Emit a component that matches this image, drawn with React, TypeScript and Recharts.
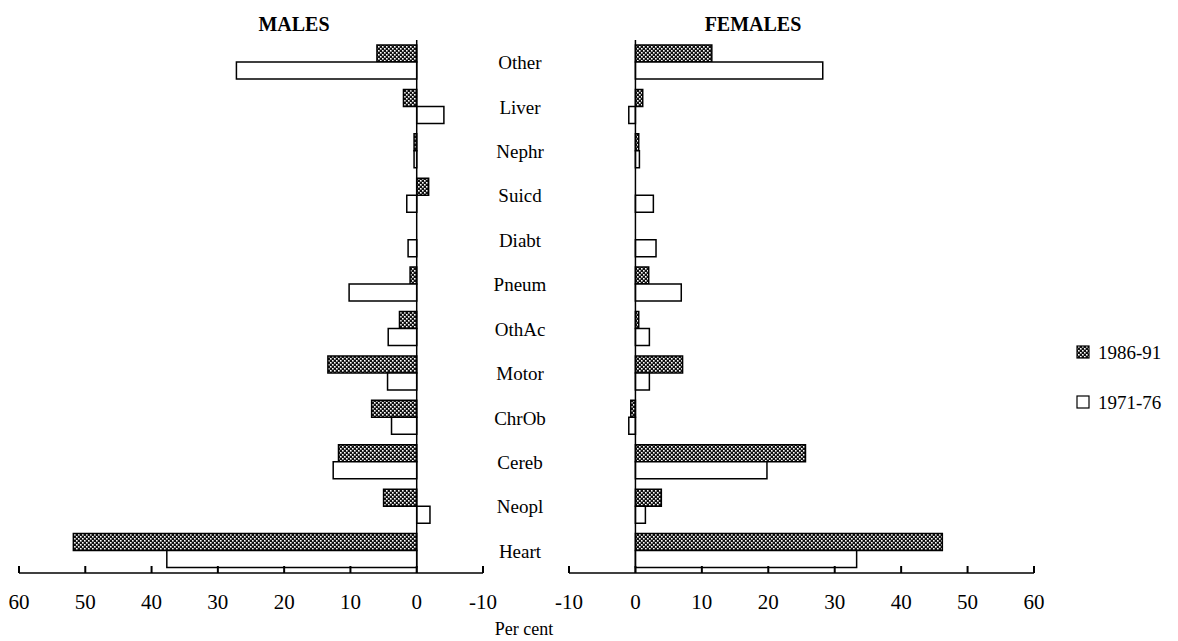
import { Bar, BarChart, ReferenceLine, XAxis, YAxis } from "recharts";

const causes = ["Other", "Liver", "Nephr", "Suicd", "Diabt", "Pneum", "OthAc", "Motor", "ChrOb", "Cereb", "Neopl", "Heart"];
const males8691 = [6.0, 2.0, 0.4, -1.8, 0, 1.0, 2.6, 13.4, 6.8, 11.8, 5.0, 51.8];
const males7176 = [27.2, -4.1, 0.4, 1.5, 1.3, 10.2, 4.3, 4.4, 3.8, 12.6, -2.0, 37.7];
const females8691 = [11.5, 1.1, 0.5, 0, 0, 2.0, 0.5, 7.1, -0.7, 25.6, 3.9, 46.2];
const females7176 = [28.2, -1.0, 0.6, 2.7, 3.1, 6.9, 2.1, 2.1, -1.0, 19.8, 1.5, 33.3];
const maleTicks = [60, 50, 40, 30, 20, 10, 0, -10];
const femaleTicks = [-10, 0, 10, 20, 30, 40, 50, 60];
const seriesNames = ["1986-91", "1971-76"];

const FONT = '"Liberation Serif", "Times New Roman", serif';

const maleData = causes.map((c, i) => ({ cause: c, recent: males8691[i], early: males7176[i] }));
const femaleData = causes.map((c, i) => ({ cause: c, recent: females8691[i], early: females7176[i] }));

function XTick(props: any) {
  const { x, y, payload } = props;
  return (
    <g>
      <line x1={x} x2={x} y1={y} y2={y - 7} stroke="#000" strokeWidth={2} />
      <text x={x} y={y + 36} textAnchor="middle" fontSize={21} fontFamily={FONT} fill="#000">
        {payload.value}
      </text>
    </g>
  );
}

function CauseTick(props: any) {
  const { x, y, payload } = props;
  return (
    <text x={x + 37} y={y + 7} textAnchor="middle" fontSize={19} fontFamily={FONT} fill="#000">
      {payload.value}
    </text>
  );
}

function Hatch({ id }: { id: string }) {
  return (
    <defs>
      <pattern id={id} width="4" height="4" patternUnits="userSpaceOnUse">
        <rect width="4" height="4" fill="#111" />
        <rect x="0" y="0" width="1.6" height="1.6" fill="#fff" />
        <rect x="2" y="2" width="1.6" height="1.6" fill="#fff" />
      </pattern>
    </defs>
  );
}

function Panel({ data, reversed, ticks, id, showCauses }: any) {
  return (
    <BarChart
      width={showCauses ? 569 : 505}
      height={641}
      layout="vertical"
      data={data}
      margin={showCauses ? { top: 40, right: 0, left: 19, bottom: 0 } : { top: 40, right: 20, left: 20, bottom: 0 }}
      barGap={0}
      barSize={17}
    >
      <Hatch id={id} />
      <XAxis
        type="number"
        domain={[-10, 60]}
        ticks={ticks}
        reversed={reversed}
        height={68}
        tickSize={0}
        tickMargin={0}
        tick={<XTick />}
        axisLine={{ stroke: "#000", strokeWidth: 1.5 }}
        interval={0}
      />
      <YAxis
        type="category"
        dataKey="cause"
        orientation="right"
        width={showCauses ? 86 : 0}
        hide={!showCauses}
        axisLine={false}
        tickLine={false}
        tickSize={0}
        tickMargin={0}
        tick={<CauseTick />}
        interval={0}
      />
      <ReferenceLine x={0} stroke="#000" strokeWidth={1.5} ifOverflow="extendDomain" />
      <Bar dataKey="recent" name={seriesNames[0]} fill={`url(#${id})`} stroke="#000" strokeWidth={1.5} isAnimationActive={false} />
      <Bar dataKey="early" name={seriesNames[1]} fill="#fff" stroke="#000" strokeWidth={1.5} isAnimationActive={false} />
    </BarChart>
  );
}

export default function App() {
  return (
    <div style={{ position: "absolute", left: 0, top: 0, width: 1178, height: 641, background: "#fff", overflow: "hidden" }}>
      <div style={{ position: "absolute", left: 0, top: 0 }}>
        <Panel data={maleData} reversed ticks={maleTicks} id="hatchM" showCauses />
      </div>
      <div style={{ position: "absolute", left: 549, top: 0 }}>
        <Panel data={femaleData} reversed={false} ticks={femaleTicks} id="hatchF" showCauses={false} />
      </div>
      <svg width={1178} height={641} style={{ position: "absolute", left: 0, top: 0, pointerEvents: "none" }}>
        <Hatch id="hatchL" />
        <text x={294} y={31} textAnchor="middle" fontSize={20} fontWeight="bold" fontFamily={FONT}>MALES</text>
        <text x={753} y={31} textAnchor="middle" fontSize={20} fontWeight="bold" fontFamily={FONT}>FEMALES</text>
        <text x={524} y={635} textAnchor="middle" fontSize={18} fontFamily={FONT}>Per cent</text>
        {seriesNames.map((name, i) => (
          <g key={name}>
            <rect x={1077} y={346 + i * 50} width={12} height={12} fill={i === 0 ? "url(#hatchL)" : "#fff"} stroke="#000" strokeWidth={1.2} />
            <text x={1098} y={359 + i * 50} fontSize={19} fontFamily={FONT}>{name}</text>
          </g>
        ))}
      </svg>
    </div>
  );
}
